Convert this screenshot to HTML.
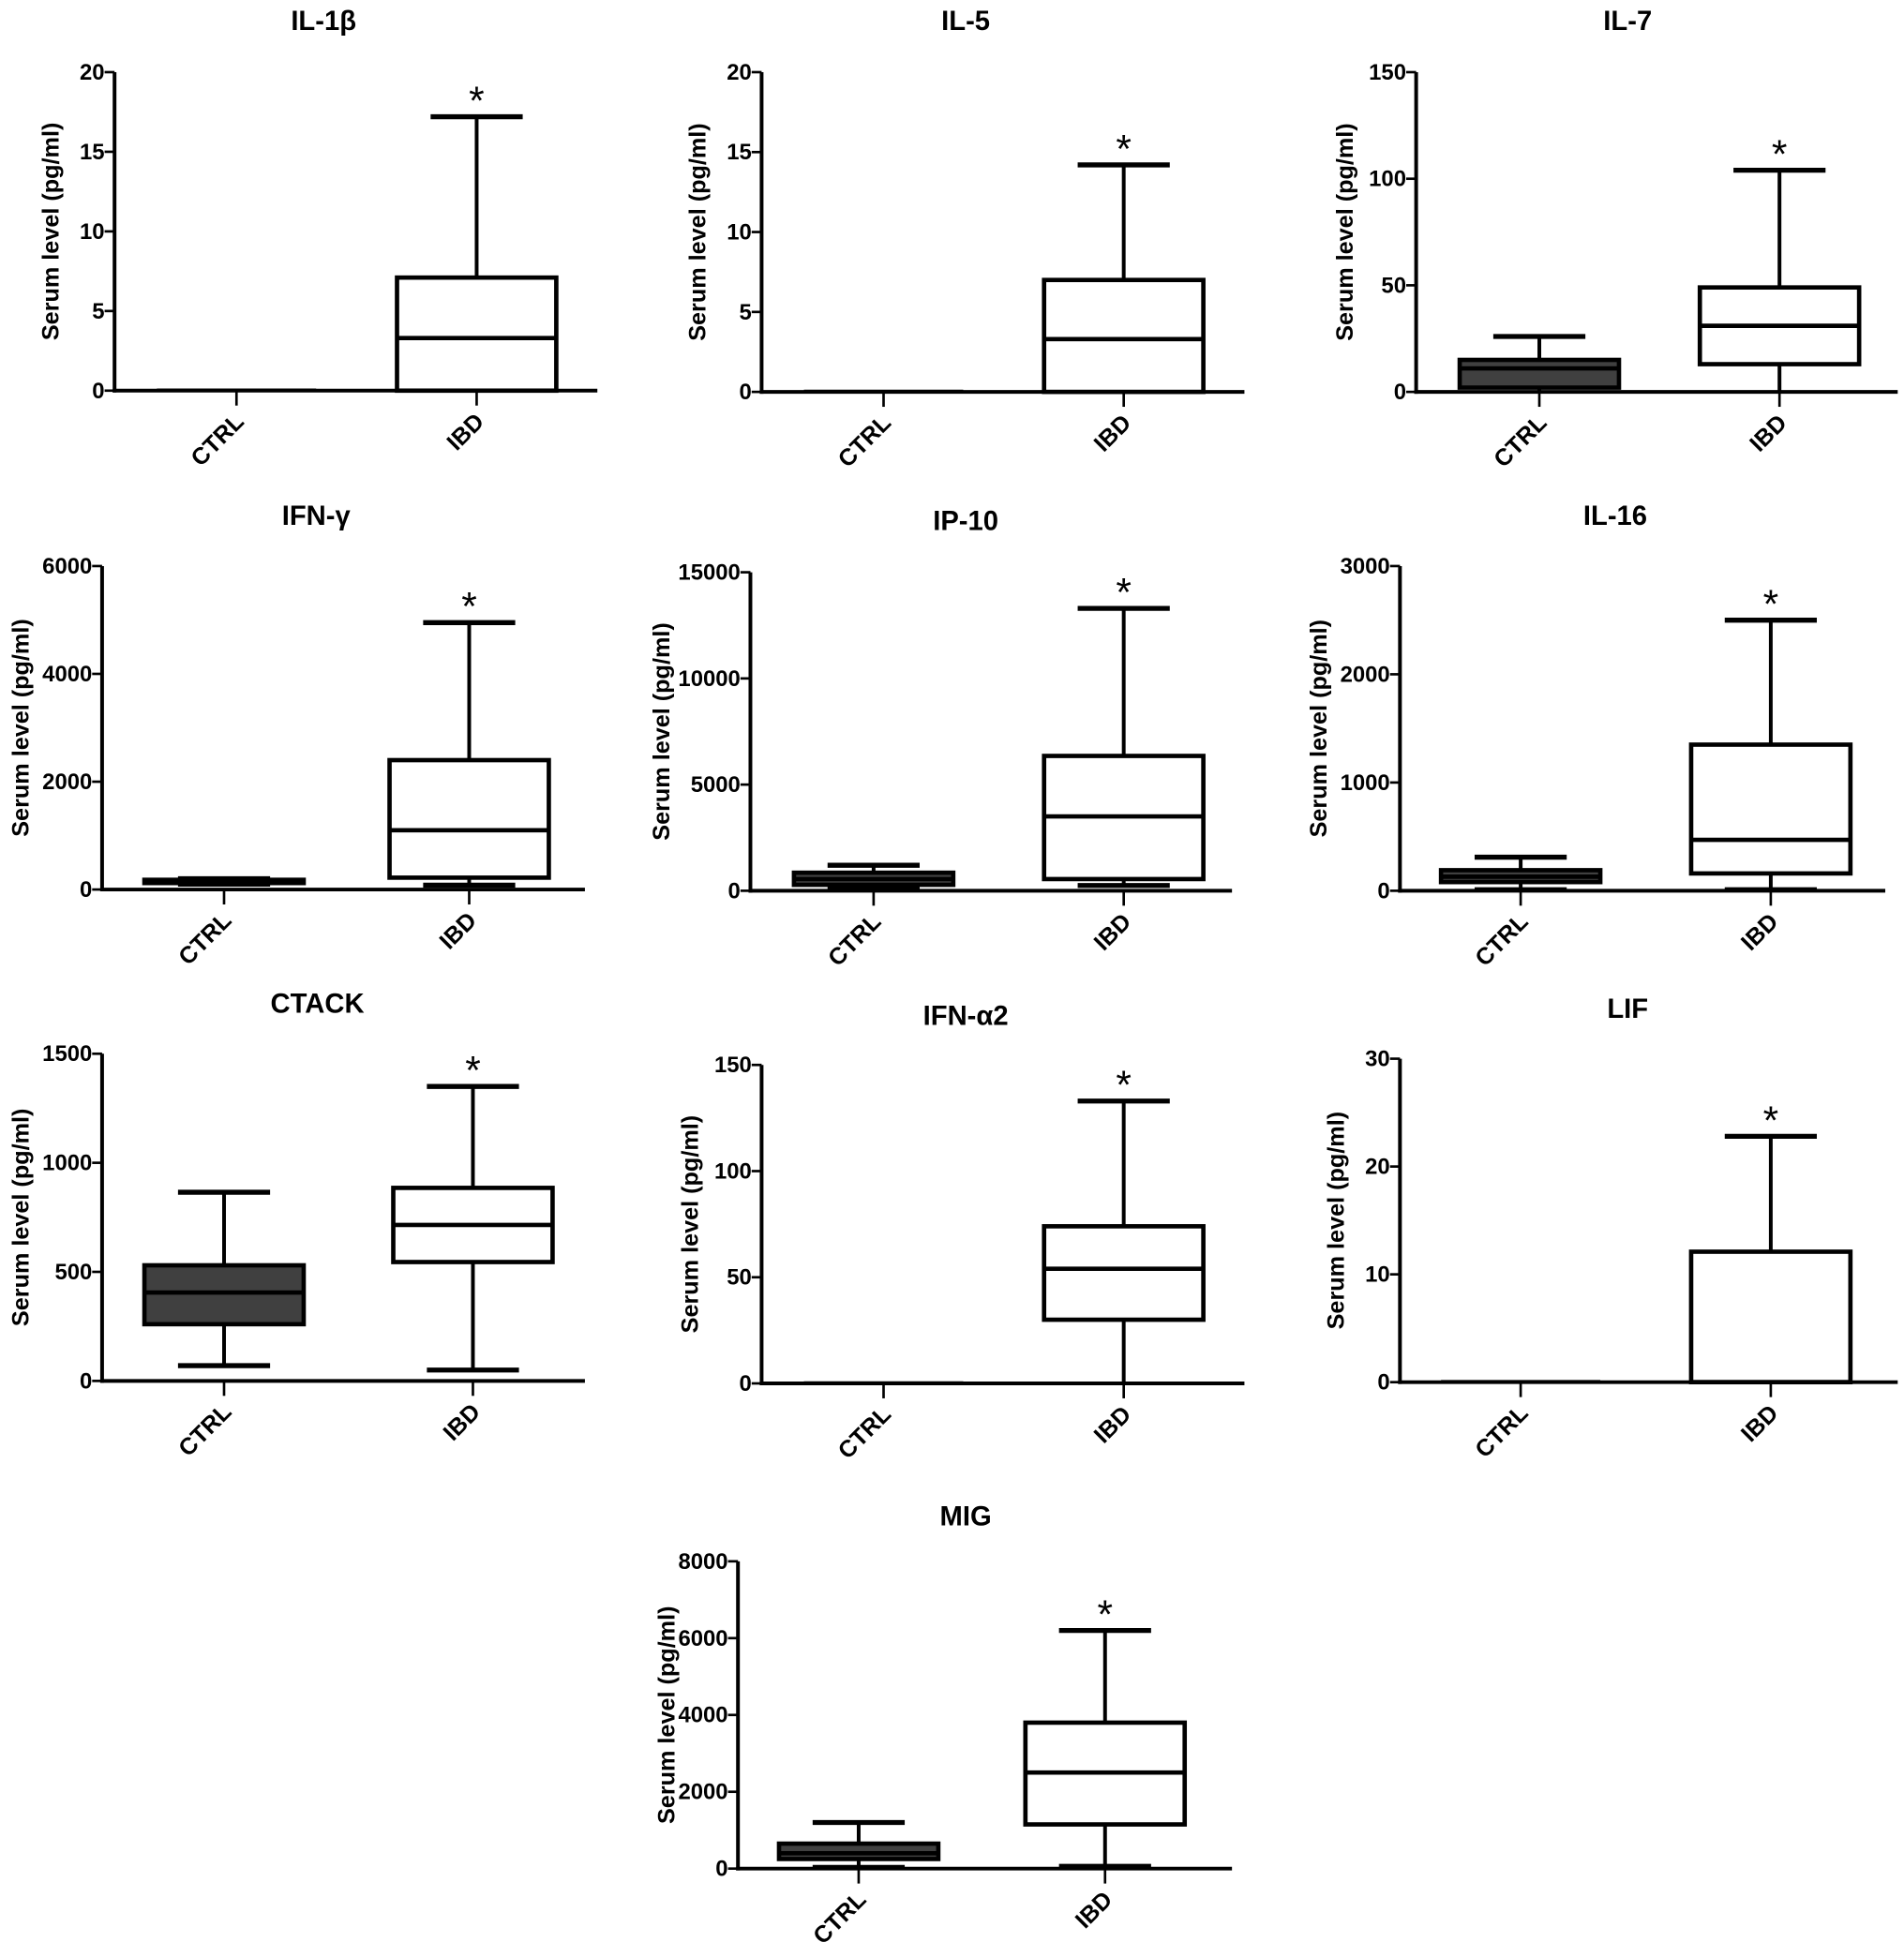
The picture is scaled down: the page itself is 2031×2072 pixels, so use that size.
<!DOCTYPE html>
<html><head><meta charset="utf-8"><style>
html,body{margin:0;padding:0;background:#fff}
svg{display:block;font-family:"Liberation Sans",Arial,sans-serif;font-weight:bold}
</style></head><body>
<svg id="chart" xmlns="http://www.w3.org/2000/svg" width="2031" height="2072" viewBox="0 0 1530 1561"></svg>
<script>
// ---- data ----
const panelTitles = ["IL-1β","IL-5","IL-7","IFN-γ","IP-10","IL-16","CTACK","IFN-α2","LIF","MIG"];
const yMaxes = [20,20,150,6000,15000,3000,1500,150,30,8000];
const yTickLabels = [
  [0,5,10,15,20],[0,5,10,15,20],[0,50,100,150],[0,2000,4000,6000],[0,5000,10000,15000],
  [0,1000,2000,3000],[0,500,1000,1500],[0,50,100,150],[0,10,20,30],[0,2000,4000,6000,8000]
];
const groups = ["CTRL","IBD"];
// [whiskerLow, q1, median, q3, whiskerHigh]
const ctrlStats = [
  [0,0,0,0,0],[0,0,0,0,0],[0,2,11,15,26],[100,120,150,180,200],[200,280,550,850,1200],
  [10,80,130,190,310],[70,260,405,530,865],[0,0,0,0,0],[0,0,0,0,0],[30,250,400,650,1200]
];
const ibdStats = [
  [0,0,3.3,7.1,17.2],[0,0,3.3,7.0,14.2],[0,13,31,49,104],[80,220,1100,2400,4950],[250,550,3500,6350,13300],
  [10,160,470,1350,2500],[50,545,715,885,1350],[0,30,54,74,133],[0,0,0,12.1,22.8],[60,1150,2500,3800,6200]
];
// ---- layout (pixels) ----
const layout = [
  {ax:92,top:58,bot:314,right:480,c:[190,383],tx:260,ty:24,lo:50},
  {ax:612,top:58,bot:315,right:1000,c:[710,903],tx:776,ty:24,lo:50},
  {ax:1138,top:58,bot:315,right:1525,c:[1237,1430],tx:1308,ty:24,lo:56},
  {ax:82,top:455,bot:715,right:470,c:[180,377],tx:254,ty:422,lo:64},
  {ax:603,top:460,bot:716,right:990,c:[702,903],tx:776,ty:426,lo:70},
  {ax:1125,top:455,bot:716,right:1515,c:[1222,1423],tx:1298,ty:422,lo:64},
  {ax:82,top:847,bot:1110,right:470,c:[180,380],tx:255,ty:814,lo:64},
  {ax:612,top:856,bot:1112,right:1000,c:[710,903],tx:776,ty:824,lo:56},
  {ax:1125,top:851,bot:1111,right:1525,c:[1222,1423],tx:1308,ty:818,lo:50},
  {ax:593,top:1255,bot:1502,right:990,c:[690,888],tx:776,ty:1226,lo:56}
];
const NS="http://www.w3.org/2000/svg";
const svg=document.getElementById('chart');
function mk(tag,attrs,parent){const e=document.createElementNS(NS,tag);for(const k in attrs)e.setAttribute(k,attrs[k]);(parent||svg).appendChild(e);return e;}
panelTitles.forEach((title,i)=>{
  const L=layout[i];
  const g=mk('g',{});
  
  
  const y=v=>L.bot-(v/yMaxes[i])*(L.bot-L.top);
  const t=mk('text',{x:L.tx,y:L.ty,'text-anchor':'middle','font-size':22},g);
  t.textContent=title;
  
  
  const yl=mk('text',{x:0,y:0,'text-anchor':'middle','font-size':19,transform:`translate(${L.ax-L.lo+5},${(L.top+L.bot)/2}) rotate(-90)`},g);
  yl.textContent='Serum level (pg/ml)';
  
  
  const ya=mk('line',{x1:L.ax,y1:L.top,x2:L.ax,y2:L.bot+1.5,stroke:'#000','stroke-width':3},g);
  
  
  const xa=mk('line',{x1:L.ax-1.5,y1:L.bot,x2:L.right,y2:L.bot,stroke:'#000','stroke-width':3},g);
  
  
  yTickLabels[i].forEach(v=>{
    mk('line',{x1:L.ax-8,y1:y(v),x2:L.ax,y2:y(v),stroke:'#000','stroke-width':2},g);
    const tl=mk('text',{x:L.ax-8,y:y(v)+6,'text-anchor':'end','font-size':18},g);
    tl.textContent=v;
    
    
  });
  groups.forEach((gn,j)=>{
    const cx=L.c[j];
    mk('line',{x1:cx,y1:L.bot,x2:cx,y2:L.bot+12,stroke:'#000','stroke-width':2},g);
    const xl=mk('text',{x:0,y:0,'text-anchor':'end','font-size':19,transform:`translate(${cx+7},${L.bot+26}) rotate(-45)`},g);
    xl.textContent=gn;
    
    
    const s=(j===0?ctrlStats:ibdStats)[i];
    const bg=mk('g',{},g);
    
    
    if(s[4]===0){
      mk('line',{x1:cx-64,y1:L.bot-1,x2:cx+64,y2:L.bot-1,stroke:'#000','stroke-width':1.5},bg);
      return;
    }
    const fill=j===0?'#404040':'#fff';
    mk('line',{x1:cx,y1:y(s[0]),x2:cx,y2:y(s[4]),stroke:'#000','stroke-width':3},bg);
    mk('line',{x1:cx-37,y1:y(s[4]),x2:cx+37,y2:y(s[4]),stroke:'#000','stroke-width':4},bg);
    if(s[0]>0) mk('line',{x1:cx-37,y1:y(s[0]),x2:cx+37,y2:y(s[0]),stroke:'#000','stroke-width':4},bg);
    mk('rect',{x:cx-64,y:y(s[3]),width:128,height:Math.max(y(s[1])-y(s[3]),0.5),fill:fill,stroke:'#000','stroke-width':3.5},bg);
    mk('line',{x1:cx-64,y1:y(s[2]),x2:cx+64,y2:y(s[2]),stroke:'#000','stroke-width':3.5},bg);
    if(j===1){
      const a=mk('text',{x:cx,y:y(s[4])-2,'text-anchor':'middle','font-size':32,'font-weight':'normal'},bg);
      a.textContent='*';
      
      
    }
  });
});
</script>
</body></html>
